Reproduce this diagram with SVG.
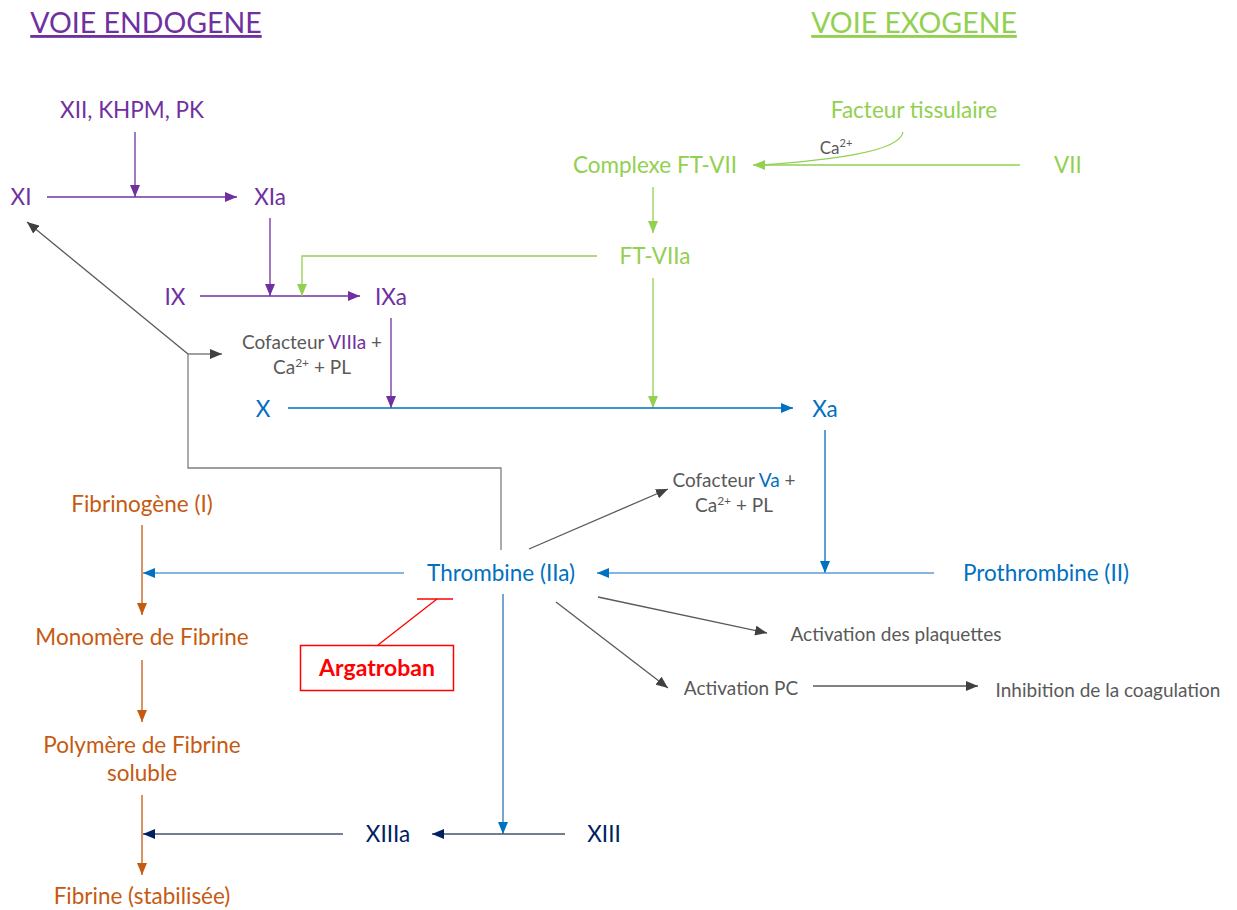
<svg xmlns="http://www.w3.org/2000/svg" width="1237" height="910" viewBox="0 0 1237 910">
<defs>
<style>
text{font-family:Lato,"Open Sans","Liberation Sans",sans-serif;font-size:22.5px;text-anchor:middle}
.pu{fill:#7030A0}.gr{fill:#92D050}.bl{fill:#0070C0}.or{fill:#C55A11}.nv{fill:#002060}.gy{fill:#595959;font-size:19px}
.title{font-size:28.5px;text-decoration:underline}
.l{fill:none;stroke-width:1.3}
</style>
<marker id="mPu" viewBox="0 0 12 10" refX="12" refY="5" markerWidth="12" markerHeight="10" markerUnits="userSpaceOnUse" orient="auto"><path d="M0,0L12,5L0,10z" fill="#7030A0"/></marker>
<marker id="mGr" viewBox="0 0 12 10" refX="12" refY="5" markerWidth="12" markerHeight="10" markerUnits="userSpaceOnUse" orient="auto"><path d="M0,0L12,5L0,10z" fill="#92D050"/></marker>
<marker id="mBl" viewBox="0 0 12 10" refX="12" refY="5" markerWidth="12" markerHeight="10" markerUnits="userSpaceOnUse" orient="auto"><path d="M0,0L12,5L0,10z" fill="#0070C0"/></marker>
<marker id="mOr" viewBox="0 0 12 10" refX="12" refY="5" markerWidth="12" markerHeight="10" markerUnits="userSpaceOnUse" orient="auto"><path d="M0,0L12,5L0,10z" fill="#C55A11"/></marker>
<marker id="mNv" viewBox="0 0 12 10" refX="12" refY="5" markerWidth="12" markerHeight="10" markerUnits="userSpaceOnUse" orient="auto"><path d="M0,0L12,5L0,10z" fill="#002060"/></marker>
<marker id="mGy" viewBox="0 0 12 10" refX="12" refY="5" markerWidth="12" markerHeight="10" markerUnits="userSpaceOnUse" orient="auto"><path d="M0,0L12,5L0,10z" fill="#404040"/></marker>
</defs>
<rect width="1237" height="910" fill="#fff"/>

<g id="titles">
<text class="title pu" x="146" y="33">VOIE ENDOGENE</text>
<text class="title gr" x="914" y="33">VOIE EXOGENE</text>
</g>

<g id="connectors">
<line class="l" stroke="#7030A0" x1="135" y1="132" x2="135" y2="197" marker-end="url(#mPu)"/>
<line class="l" stroke="#7030A0" x1="47" y1="197" x2="237" y2="197" marker-end="url(#mPu)"/>
<line class="l" stroke="#7030A0" x1="270" y1="218" x2="270" y2="296" marker-end="url(#mPu)"/>
<line class="l" stroke="#7030A0" x1="200" y1="296" x2="360" y2="296" marker-end="url(#mPu)"/>
<line class="l" stroke="#7030A0" x1="391" y1="318" x2="391" y2="408" marker-end="url(#mPu)"/>
<path class="l" stroke="#92D050" d="M903,132 C900,152 830,160 762,165" />
<line class="l" stroke="#92D050" x1="1020" y1="165" x2="753" y2="165" marker-end="url(#mGr)"/>
<line class="l" stroke="#92D050" x1="653" y1="187" x2="653" y2="233" marker-end="url(#mGr)"/>
<path class="l" stroke="#92D050" d="M597,256 H302 V296" marker-end="url(#mGr)"/>
<line class="l" stroke="#92D050" x1="653" y1="278" x2="653" y2="408" marker-end="url(#mGr)"/>
<line class="l" stroke="#0070C0" x1="288" y1="408" x2="793" y2="408" marker-end="url(#mBl)"/>
<line class="l" stroke="#0070C0" x1="825" y1="430" x2="825" y2="573" marker-end="url(#mBl)"/>
<line class="l" stroke="#5B9BD5" x1="934" y1="573" x2="597" y2="573" marker-end="url(#mBl)"/>
<line class="l" stroke="#5B9BD5" x1="404" y1="573" x2="143" y2="573" marker-end="url(#mBl)"/>
<line class="l" stroke="#2E75B6" x1="503" y1="594" x2="503" y2="834" marker-end="url(#mBl)"/>
<line class="l" stroke="#44546A" x1="565" y1="834" x2="432" y2="834" marker-end="url(#mNv)"/>
<line class="l" stroke="#44546A" x1="343" y1="834" x2="143" y2="834" marker-end="url(#mNv)"/>
<line class="l" stroke="#C55A11" x1="142" y1="525" x2="142" y2="615" marker-end="url(#mOr)"/>
<line class="l" stroke="#C55A11" x1="142" y1="660" x2="142" y2="722" marker-end="url(#mOr)"/>
<line class="l" stroke="#C55A11" x1="142" y1="795" x2="142" y2="875" marker-end="url(#mOr)"/>
<path class="l" stroke="#7F7F7F" d="M501,550 V468 H188 V354"/>
<line class="l" stroke="#595959" x1="188" y1="354" x2="27" y2="222" marker-end="url(#mGy)"/>
<line class="l" stroke="#7F7F7F" x1="188" y1="354" x2="222" y2="354" marker-end="url(#mGy)"/>
<line class="l" stroke="#595959" x1="529" y1="549" x2="668" y2="489" marker-end="url(#mGy)"/>
<line class="l" stroke="#595959" x1="598" y1="597" x2="767" y2="633" marker-end="url(#mGy)"/>
<line class="l" stroke="#595959" x1="556" y1="602" x2="668" y2="688" marker-end="url(#mGy)"/>
<line class="l" stroke="#595959" x1="813" y1="686" x2="978" y2="686" marker-end="url(#mGy)"/>
<line class="l" stroke="#FF0000" x1="417" y1="599" x2="453" y2="599"/>
<line class="l" stroke="#FF0000" x1="437" y1="599" x2="378" y2="645"/>
</g>

<g id="n-xii"><text class="pu" x="132" y="118">XII, KHPM, PK</text></g>
<g id="n-xi"><text class="pu" x="21" y="205">XI</text></g>
<g id="n-xia"><text class="pu" x="270" y="205">XIa</text></g>
<g id="n-ix"><text class="pu" x="175" y="305">IX</text></g>
<g id="n-ixa"><text class="pu" x="391" y="305">IXa</text></g>
<g id="n-cof8">
<text class="gy" x="312" y="349">Cofacteur <tspan class="pu">VIIIa</tspan> +</text>
<text class="gy" x="312" y="374">Ca<tspan font-size="12" dy="-7">2+</tspan><tspan dy="7"> + PL</tspan></text>
</g>
<g id="n-ft"><text class="gr" x="914" y="118">Facteur tissulaire</text></g>
<g id="n-ca"><text class="gy" x="836" y="154" style="font-size:17px">Ca<tspan font-size="11" dy="-7">2+</tspan></text></g>
<g id="n-cft7"><text class="gr" x="655" y="173">Complexe FT-VII</text></g>
<g id="n-vii"><text class="gr" x="1068" y="173">VII</text></g>
<g id="n-ft7a"><text class="gr" x="655" y="264">FT-VIIa</text></g>
<g id="n-x"><text class="bl" x="263" y="417">X</text></g>
<g id="n-xa"><text class="bl" x="825" y="417">Xa</text></g>
<g id="n-cof5">
<text class="gy" x="734" y="487">Cofacteur <tspan class="bl">Va</tspan> +</text>
<text class="gy" x="734" y="512">Ca<tspan font-size="12" dy="-7">2+</tspan><tspan dy="7"> + PL</tspan></text>
</g>
<g id="n-proth"><text class="bl" x="1046" y="581">Prothrombine (II)</text></g>
<g id="n-thromb"><text class="bl" x="501" y="581">Thrombine (IIa)</text></g>
<g id="n-plaq"><text class="gy" x="896" y="641">Activation des plaquettes</text></g>
<g id="n-pc"><text class="gy" x="741" y="695">Activation PC</text></g>
<g id="n-inhib"><text class="gy" x="1108" y="697">Inhibition de la coagulation</text></g>
<g id="n-arga">
<rect x="300.5" y="645.5" width="153" height="45" fill="#fff" stroke="#FF0000" stroke-width="1.5"/>
<text x="377" y="676" style="fill:#FF0000;font-weight:bold;font-size:23px">Argatroban</text>
</g>
<g id="n-fibrinogene"><text class="or" x="142" y="512">Fibrinogène (I)</text></g>
<g id="n-monomere"><text class="or" x="142" y="645">Monomère de Fibrine</text></g>
<g id="n-polymere"><text class="or" x="142" y="753">Polymère de Fibrine</text><text class="or" x="142" y="781">soluble</text></g>
<g id="n-fibrine"><text class="or" x="142" y="904">Fibrine (stabilisée)</text></g>
<g id="n-xiiia"><text class="nv" x="388" y="842">XIIIa</text></g>
<g id="n-xiii"><text class="nv" x="604" y="842">XIII</text></g>
</svg>
